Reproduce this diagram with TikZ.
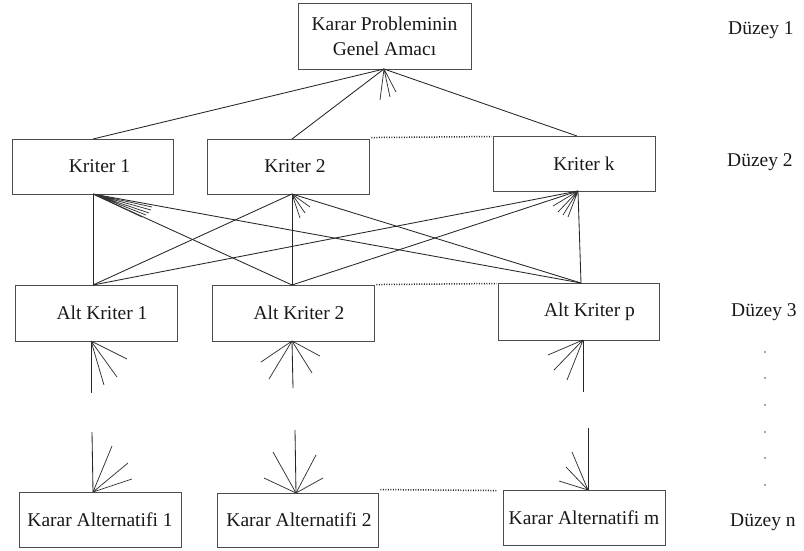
\documentclass[tikz,border=0pt]{standalone}
\usepackage{fontspec}
\setmainfont{Liberation Serif}
\usetikzlibrary{calc}
\begin{document}
\begin{tikzpicture}[x=1pt,y=-1pt,
  box/.style={draw=black!70,line width=0.9pt,inner sep=0pt,align=center,
    font=\fontsize{19.5}{25}\selectfont,text=black!90},
  lvl/.style={anchor=west,inner sep=0pt,font=\fontsize{19.5}{25}\selectfont,text=black!90},
  conn/.style={draw=black!85,line width=0.85pt},
  fan/.style={draw=black!80,line width=0.75pt},
  dots/.style={draw=black!85,line width=1.5pt,dash pattern=on 0.9pt off 1.6pt}]
\useasboundingbox (0,0) rectangle (804,550);
\fill[white] (0,0) rectangle (804,550);

% boxes
\node[box,minimum width=173pt,minimum height=66pt] (top) at (384.5,36) {Karar Probleminin\\Genel Amacı};
\node[box,minimum width=161pt,minimum height=55pt] (k1) at (92.5,166.5) {\hspace*{14pt}Kriter 1};
\node[box,minimum width=162pt,minimum height=55pt] (k2) at (288,166.5) {\hspace*{14pt}Kriter 2};
\node[box,minimum width=162pt,minimum height=55pt] (kk) at (574,163.5) {\hspace*{20pt}Kriter k};
\node[box,minimum width=162pt,minimum height=56pt] (a1) at (96,313) {\hspace*{12pt}Alt Kriter 1};
\node[box,minimum width=162pt,minimum height=56pt] (a2) at (293,313) {\hspace*{12pt}Alt Kriter 2};
\node[box,minimum width=161pt,minimum height=57pt] (ap) at (578.5,311.5) {\hspace*{22pt}Alt Kriter p};
\node[box,minimum width=162pt,minimum height=55pt] (ka1) at (100,519.5) {Karar Alternatifi 1};
\node[box,minimum width=161pt,minimum height=54pt] (ka2) at (297.5,520) {\hspace*{3pt}Karar Alternatifi 2};
\node[box,minimum width=162pt,minimum height=55pt] (kam) at (584,517.5) {Karar Alternatifi m};

% level labels
\node[lvl] (d1) at (728,30) {Düzey 1};
\node[lvl] (d2) at (727,162) {Düzey 2};
\node[lvl] (d3) at (731,312) {Düzey 3};
\node[lvl] (dn) at (730,522) {Düzey n};
\foreach \yy in {352,378,405,432,458,485} \fill[black!70] (765,\yy) circle (0.9pt);

% anchor points on box edges
\coordinate (topB) at (384,69);
\coordinate (k1T) at (93,139);
\coordinate (k2T) at (292,139);
\coordinate (kkT) at (577,136);
\coordinate (k1B) at (93,194);
\coordinate (k2B) at (292,194);
\coordinate (kkB) at (578,191);
\coordinate (a1T) at (93,285);
\coordinate (a2T) at (292,285);
\coordinate (apT) at (581,283);
\coordinate (a1B) at (91,341);
\coordinate (a2B) at (292,341);
\coordinate (apB) at (583,340);
\coordinate (ka1T) at (93,492);
\coordinate (ka2T) at (296,493);
\coordinate (kamT) at (588,490);
\coordinate (a1E) at (91,393);
\coordinate (a2E) at (293,388);
\coordinate (apE) at (583,392);
\coordinate (ka1E) at (92,432);
\coordinate (ka2E) at (295,430);
\coordinate (kamE) at (588,428);

% level 1 - level 2
\draw[conn] (topB) -- (k1T);
\draw[conn] (topB) -- (k2T);
\draw[conn] (topB) -- (kkT);
\draw[fan] (topB) -- ++(-4,31) (topB) -- ++(6,28) (topB) -- ++(12,23);

% level 2 - level 3
\foreach \s in {k1B,k2B,kkB}
  \foreach \t in {a1T,a2T,apT}
    \draw[conn] (\s) -- (\t);
\draw[fan] (k1B) -- ++(59,13) (k1B) -- ++(58,16) (k1B) -- ++(56,19) (k1B) -- ++(53,21) (k1B) -- ++(49,23);
\draw[fan] (k2B) -- ++(8,24) (k2B) -- ++(13,19) (k2B) -- ++(18,13);
\draw[fan] (kkB) -- ++(-25,15) (kkB) -- ++(-20,21) (kkB) -- ++(-15,24) (kkB) -- ++(-10,26);

% level 3 downwards
\draw[conn] (a1B) -- (a1E);
\draw[conn] (a2B) -- (a2E);
\draw[conn] (apB) -- (apE);
\draw[fan] (a1B) -- ++(36,18) (a1B) -- ++(26,36) (a1B) -- ++(13,44);
\draw[fan] (a2B) -- ++(-31,21) (a2B) -- ++(-23,38) (a2B) -- ++(20,32) (a2B) -- ++(28,15);
\draw[fan] (apB) -- ++(-35,15) (apB) -- ++(-29,30) (apB) -- ++(-16,40);

% level n upwards
\draw[conn] (ka1E) -- (ka1T);
\draw[conn] (ka2E) -- (ka2T);
\draw[conn] (kamE) -- (kamT);
\draw[fan] (ka1T) -- ++(19,-46) (ka1T) -- ++(35,-29) (ka1T) -- ++(39,-13);
\draw[fan] (ka2T) -- ++(-32,-15) (ka2T) -- ++(-23,-41) (ka2T) -- ++(20,-38) (ka2T) -- ++(27,-15);
\draw[fan] (kamT) -- ++(-16,-38) (kamT) -- ++(-22,-23) (kamT) -- ++(-29,-9);

% dotted links
\draw[dots] ($(k2.north east)+(2,-1)$) -- ($(kk.north west)+(-1,1)$);
\draw[dots] ($(a2.north east)+(2,0)$) -- ($(ap.north west)+(-1,1)$);
\draw[dots] ($(ka2.north east)+(2,-3)$) -- ($(kam.north west)+(-6,1)$);
\end{tikzpicture}
\end{document}
